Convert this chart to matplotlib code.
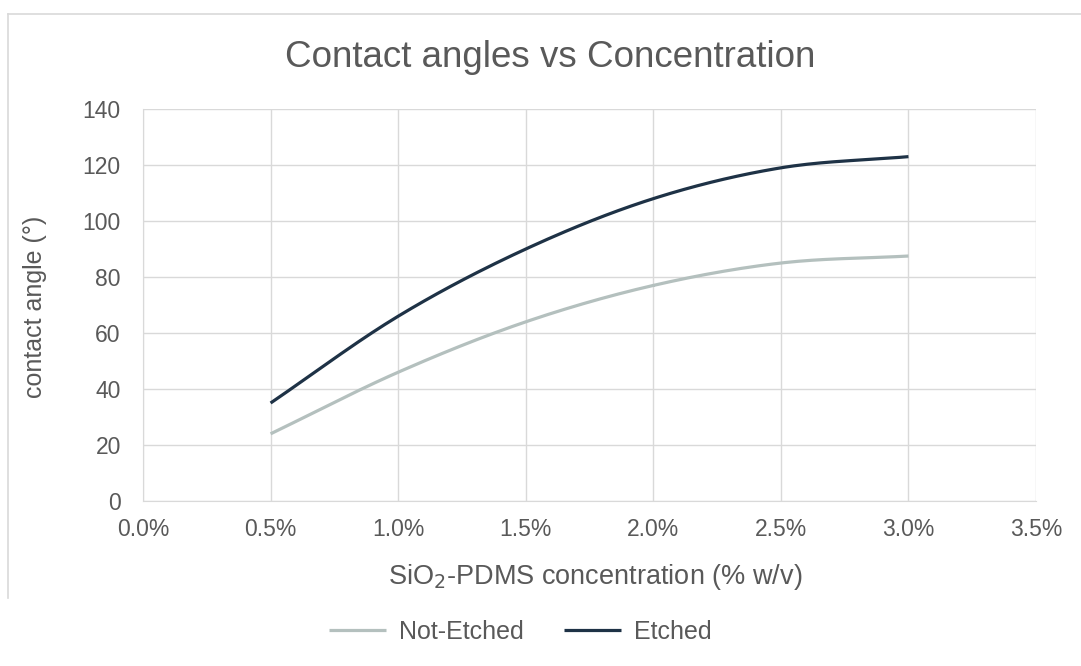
import matplotlib.pyplot as plt
import numpy as np
from matplotlib.lines import Line2D
from matplotlib.ticker import FuncFormatter

# Data
concentration = [0.005, 0.010, 0.015, 0.020, 0.025, 0.030]
not_etched = [24, 46, 64, 77, 85, 87.5]
etched = [35, 66, 90, 108, 119, 123]


def smooth(x, y, n=30):
    # Catmull-Rom spline through the points, like Excel's smoothed line
    x = np.asarray(x, float)
    y = np.asarray(y, float)
    px = np.concatenate([[2 * x[0] - x[1]], x, [2 * x[-1] - x[-2]]])
    py = np.concatenate([[2 * y[0] - y[1]], y, [2 * y[-1] - y[-2]]])
    xs, ys = [], []
    t = np.linspace(0, 1, n)
    for i in range(1, len(px) - 2):
        for p, out in ((px, xs), (py, ys)):
            p0, p1, p2, p3 = p[i - 1], p[i], p[i + 1], p[i + 2]
            out.extend(0.5 * (2 * p1 + (-p0 + p2) * t
                              + (2 * p0 - 5 * p1 + 4 * p2 - p3) * t ** 2
                              + (-p0 + 3 * p1 - 3 * p2 + p3) * t ** 3))
    return xs, ys


plt.rcParams['font.family'] = ['Liberation Sans', 'DejaVu Sans']
text_col = '#595959'
grid_col = '#D9D9D9'

fig = plt.figure(figsize=(10.81, 6.66), dpi=100)
ax = fig.add_axes([0.1323, 0.2477, 0.8261, 0.5886])

x1, y1 = smooth(concentration, not_etched)
x2, y2 = smooth(concentration, etched)
ax.plot(x1, y1, color='#B4C0BE', lw=2.3, label='Not-Etched', solid_capstyle='butt')
ax.plot(x2, y2, color='#1E3246', lw=2.3, label='Etched', solid_capstyle='butt')

ax.set_xlim(0, 0.035)
ax.set_ylim(0, 140)
ax.set_xticks(np.arange(0, 0.0351, 0.005))
ax.set_yticks(range(0, 141, 20))
ax.xaxis.set_major_formatter(FuncFormatter(lambda v, p: f'{v * 100:.1f}%'))
ax.grid(True, color=grid_col, lw=1)
ax.set_axisbelow(True)
for s in ax.spines.values():
    s.set_visible(False)
ax.spines['bottom'].set_visible(True)
ax.spines['bottom'].set_color(grid_col)
ax.spines['left'].set_visible(True)
ax.spines['left'].set_color(grid_col)
ax.tick_params(length=0, labelsize=16.5, colors=text_col)
ax.tick_params(axis='y', pad=16)
ax.tick_params(axis='x', pad=12)

fig.text(0.509, 0.9144, 'Contact angles vs Concentration', fontsize=26.5,
         color=text_col, ha='center', va='center')
fig.text(0.551, 0.1336, 'SiO$_2$-PDMS concentration (% w/v)', fontsize=19.5,
         color=text_col, ha='center', va='center')
fig.text(0.0324, 0.539, 'contact angle (°)', fontsize=18, rotation=90,
         color=text_col, ha='center', va='center')

fig.legend(loc='center', bbox_to_anchor=(0.481, 0.051), ncol=2, frameon=False,
           fontsize=18, labelcolor=text_col, handlelength=2.3, handletextpad=0.5,
           columnspacing=1.6)

# light chart-area border (top and left edges visible)
fig.add_artist(Line2D([8 / 1081, 1], [1 - 14 / 666, 1 - 14 / 666], color=grid_col, lw=1.2))
fig.add_artist(Line2D([8 / 1081, 8 / 1081], [1 - 14 / 666, 1 - 598 / 666], color=grid_col, lw=1.2))

fig.savefig('out.png', dpi=100)
